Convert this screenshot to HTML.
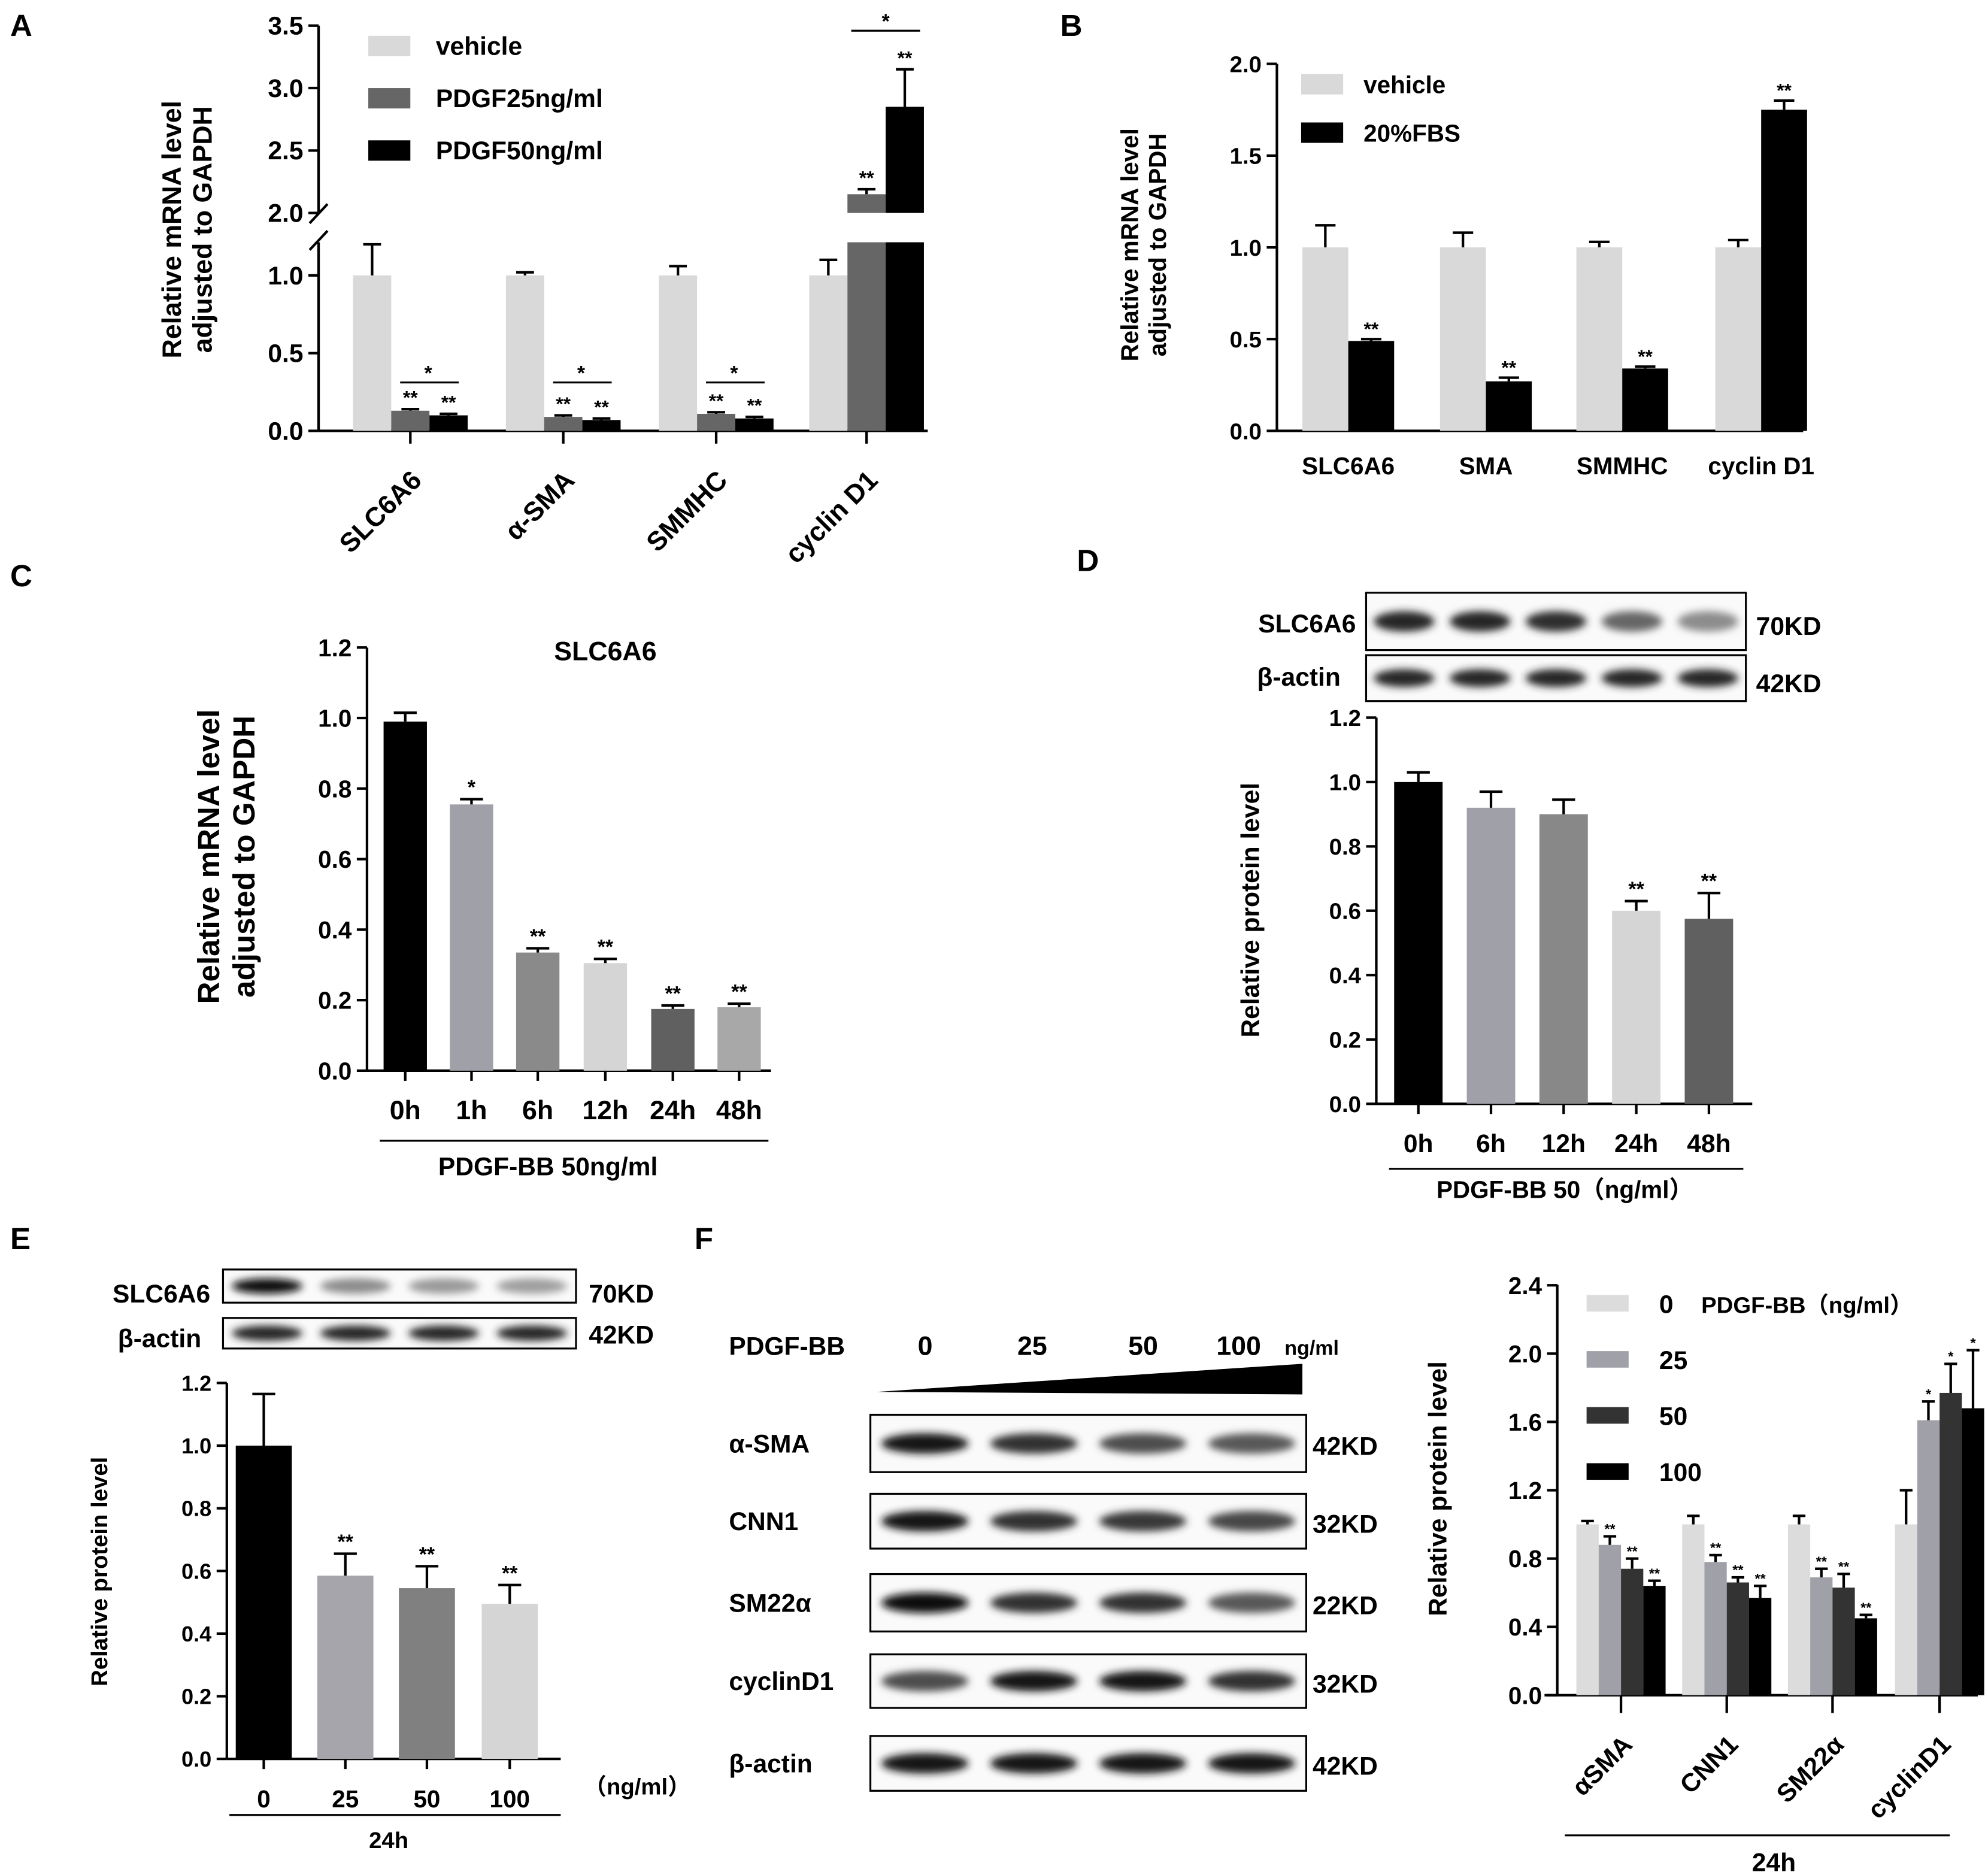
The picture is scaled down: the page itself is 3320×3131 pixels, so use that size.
<!DOCTYPE html>
<html><head><meta charset="utf-8"><style>
html,body{margin:0;padding:0;background:#fff}
svg{display:block}
text{font-family:"Liberation Sans","Noto Sans CJK SC",sans-serif;font-weight:bold;fill:#000}
</style></head><body>
<svg id="fig" xmlns="http://www.w3.org/2000/svg" width="3320" height="3131" viewBox="0 0 1560 1471">
<defs><filter id="blur" x="-20%" y="-50%" width="140%" height="200%"><feGaussianBlur stdDeviation="3"/></filter></defs>
</svg>
<script>
// ---- data ----
const aCats=["SLC6A6","α-SMA","SMMHC","cyclin D1"];
const aVehicle=[1.0,1.0,1.0,1.0];
const aP25=[0.13,0.09,0.11,2.15];
const aP50=[0.10,0.07,0.08,2.85];
const aErrV=[0.2,0.02,0.06,0.1];
const aErr25=[0.01,0.01,0.01,0.04];
const aErr50=[0.01,0.01,0.01,0.3];
const aTicksLow=[0.0,0.5,1.0];
const aTicksHigh=[2.0,2.5,3.0,3.5];
const bCats=["SLC6A6","SMA","SMMHC","cyclin D1"];
const bVehicle=[1.0,1.0,1.0,1.0];
const bFBS=[0.49,0.27,0.34,1.75];
const bErrV=[0.12,0.08,0.03,0.04];
const bErrF=[0.01,0.02,0.01,0.05];
const bTicks=[0.0,0.5,1.0,1.5,2.0];
const cCats=["0h","1h","6h","12h","24h","48h"];
const cVals=[0.99,0.755,0.335,0.305,0.175,0.18];
const cErr=[0.025,0.015,0.012,0.012,0.01,0.01];
const cStars=["","*","**","**","**","**"];
const cTicks=[0.0,0.2,0.4,0.6,0.8,1.0,1.2];
const dCats=["0h","6h","12h","24h","48h"];
const dVals=[1.0,0.92,0.90,0.60,0.575];
const dErr=[0.03,0.05,0.045,0.03,0.08];
const dStars=["","","","**","**"];
const dTicks=[0.0,0.2,0.4,0.6,0.8,1.0,1.2];
const eCats=["0","25","50","100"];
const eVals=[1.0,0.585,0.545,0.495];
const eErr=[0.165,0.07,0.07,0.06];
const eStars=["","**","**","**"];
const eTicks=[0.0,0.2,0.4,0.6,0.8,1.0,1.2];
const fCats=["αSMA","CNN1","SM22α","cyclinD1"];
const fSeries=["0","25","50","100"];
const f0=[1.0,1.0,1.0,1.0];
const f25=[0.88,0.78,0.69,1.61];
const f50=[0.74,0.66,0.63,1.77];
const f100=[0.64,0.57,0.45,1.68];
const fE0=[0.02,0.05,0.05,0.2];
const fE25=[0.05,0.04,0.05,0.11];
const fE50=[0.06,0.03,0.08,0.17];
const fE100=[0.03,0.07,0.02,0.34];
const fStars=[["","**","**","**"],["","**","**","**"],["","**","**","**"],["","*","*","*"]];
const fTicks=[0.0,0.4,0.8,1.2,1.6,2.0,2.4];

const NS="http://www.w3.org/2000/svg";
const svg=document.getElementById('fig');
function mk(tag,attrs,parent){const e=document.createElementNS(NS,tag);for(const k in attrs)e.setAttribute(k,attrs[k]);(parent||svg).appendChild(e);return e;}
function txt(s,x,y,size,anchor,parent,extra){const e=mk('text',Object.assign({x:x,y:y,'font-size':size,'text-anchor':anchor||'middle'},extra||{}),parent);e.textContent=s;return e;}
function grp(name){const g=mk('g',{});return g;}

function yAxis(g,x,yTop,yBot,ticks,ymap,fs,dec,name){
  const l=mk('line',{x1:x,y1:yTop,x2:x,y2:yBot,stroke:'#000','stroke-width':2},g);
  
  
  ticks.forEach(t=>{const y=ymap(t);
    mk('line',{x1:x-8,y1:y,x2:x,y2:y,stroke:'#000','stroke-width':2},g);
    const tl=txt(t.toFixed(dec),x-12,y+fs*0.36,fs,'end',g);
    
    
  });
}
function bar(g,x,w,y0,y,fill,name){const r=mk('rect',{x:x,y:Math.min(y,y0),width:w,height:Math.abs(y0-y),fill:fill},g);
  
  return r;}
function err(g,cx,y,yTop,hw){mk('line',{x1:cx,y1:y,x2:cx,y2:yTop,stroke:'#000','stroke-width':2},g);mk('line',{x1:cx-hw,y1:yTop,x2:cx+hw,y2:yTop,stroke:'#000','stroke-width':2},g);}
function vlabel(g,lines,x,y,fs,name){const t=mk('text',{transform:`translate(${x},${y}) rotate(-90)`,'font-size':fs,'text-anchor':'middle'},g);
  lines.forEach((s,i)=>{const ts=mk('tspan',{x:0,dy:i===0?0:fs*1.15},t);ts.textContent=s;});
  
  }
function letter(s,x,y){const t=txt(s,x,y,24,'start');}
function blot(g,x,y,w,h,n,intens,thick,name){
  const r=mk('rect',{x:x,y:y,width:w,height:h,fill:'#fafafa',stroke:'#000','stroke-width':1.5},g);
  
  
  const lw=w/n;
  for(let i=0;i<n;i++){const c=Math.round(255*(1-intens[i]));
    mk('ellipse',{cx:x+lw*(i+0.5),cy:y+h/2,rx:lw*0.4,ry:thick,fill:`rgb(${c},${c},${c})`,filter:'url(#blur)'},g);}
}

// ---- Panel A ----
(function(){
  const g=grp('panel-a');letter('A',8,28);
  const X=250,y0=338;
  const ym=v=> v<=1.5?y0-122*v:167-98*(v-2);
  mk('line',{x1:X,y1:190,x2:X,y2:y0,stroke:'#000','stroke-width':2},g);
  mk('line',{x1:X,y1:20,x2:X,y2:167,stroke:'#000','stroke-width':2},g);
  mk('line',{x1:X-7,y1:175,x2:X+7,y2:160,stroke:'#000','stroke-width':2},g);
  mk('line',{x1:X-7,y1:196,x2:X+7,y2:181,stroke:'#000','stroke-width':2},g);
  aTicksLow.concat(aTicksHigh).forEach(t=>{const y=ym(t);mk('line',{x1:X-8,y1:y,x2:X,y2:y,stroke:'#000','stroke-width':2},g);
    const tl=txt(t.toFixed(1),X-12,y+7,20,'end',g);});
  const xa=mk('line',{x1:X,y1:y0,x2:728,y2:y0,stroke:'#000','stroke-width':2},g);
  
  
  vlabel(g,['Relative  mRNA level','adjusted to GAPDH'],142,180,21,'a-y-axis-title');
  const centers=[322,442,562,680],w=30;
  const series=[[aVehicle,aErrV,'#d9d9d9'],[aP25,aErr25,'#666666'],[aP50,aErr50,'#000000']];
  aCats.forEach((c,i)=>{
    mk('line',{x1:centers[i],y1:y0,x2:centers[i],y2:y0+10,stroke:'#000','stroke-width':2},g);
    series.forEach((s,j)=>{const v=s[0][i],x=centers[i]-45+j*w;
      if(v>1.5){bar(g,x,w,y0,190,s[2],'a-bar-'+j);bar(g,x,w,167,ym(v),s[2],'a-bar-'+j);}
      else bar(g,x,w,y0,ym(v),s[2],'a-bar-'+j);
      err(g,x+w/2,ym(v),ym(v+s[1][i]),7);
      if(j>0){const st=txt('**',x+w/2,ym(v+s[1][i])-4,15,'middle',g);}
    });
    const t=txt(c,0,0,21,'end',g,{transform:`translate(${centers[i]+10},${y0+40}) rotate(-45)`});
    
    
    if(i<3){mk('line',{x1:centers[i]-8,y1:300,x2:centers[i]+38,y2:300,stroke:'#000','stroke-width':1.5},g);txt('*',centers[i]+14,298,16,'middle',g);}
  });
  mk('line',{x1:668,y1:24,x2:722,y2:24,stroke:'#000','stroke-width':1.5},g);txt('*',695,22,16,'middle',g);
  [['vehicle','#d9d9d9',36],['PDGF25ng/ml','#666666',77],['PDGF50ng/ml','#000000',118]].forEach(l=>{
    const r=mk('rect',{x:289,y:l[2]-8,width:33,height:16,fill:l[1]},g);
    
    
    const t=txt(l[0],342,l[2]+7,20,'start',g);
    
    });
})();

// ---- Panel B ----
(function(){
  const g=grp('panel-b');letter('B',832,28);
  const X=1002,y0=338,ym=v=>y0-144*v;
  yAxis(g,X,50,y0,bTicks,ym,18,1,'b');
  mk('line',{x1:X,y1:y0,x2:1415,y2:y0,stroke:'#000','stroke-width':2},g);
  vlabel(g,['Relative  mRNA level','adjusted to GAPDH'],893,192,19,'b-y-axis-title');
  const centers=[1058,1166,1273,1382],w=36;
  bCats.forEach((c,i)=>{
    bar(g,centers[i]-w,w,y0,ym(bVehicle[i]),'#d9d9d9','b-bar-vehicle');
    err(g,centers[i]-w/2,ym(bVehicle[i]),ym(bVehicle[i]+bErrV[i]),8);
    bar(g,centers[i],w,y0,ym(bFBS[i]),'#000','b-bar-fbs');
    err(g,centers[i]+w/2,ym(bFBS[i]),ym(bFBS[i]+bErrF[i]),8);
    txt('**',centers[i]+w/2,ym(bFBS[i]+bErrF[i])-3,15,'middle',g);
    const t=txt(c,centers[i],372,19,'middle',g);
    
    
  });
  [['vehicle','#d9d9d9',66],['20%FBS','#000',104]].forEach(l=>{
    const r=mk('rect',{x:1021,y:l[2]-8,width:33,height:16,fill:l[1]},g);
    
    
    const t=txt(l[0],1070,l[2]+7,19,'start',g);
    
    });
})();

// simple bar chart helper for C, D, E
function simple(name,g,X,y0,yTop,xEnd,ticks,ppu,cats,vals,errs,stars,centers,w,colors,fs){
  const ym=v=>y0-ppu*v;
  yAxis(g,X,yTop,y0,ticks,ym,fs,1,name);
  const xa=mk('line',{x1:X,y1:y0,x2:xEnd,y2:y0,stroke:'#000','stroke-width':2},g);
  
  
  cats.forEach((c,i)=>{
    bar(g,centers[i]-w/2,w,y0,ym(vals[i]),colors[i],name+'-bar');
    err(g,centers[i],ym(vals[i]),ym(vals[i]+errs[i]),9);
    if(stars[i])txt(stars[i],centers[i],ym(vals[i]+errs[i])-4,16,'middle',g);
    mk('line',{x1:centers[i],y1:y0,x2:centers[i],y2:y0+8,stroke:'#000','stroke-width':2},g);
    const t=txt(c,centers[i],y0+38,fs+2,'middle',g);
    
    
  });
}

// ---- Panel C ----
(function(){
  const g=grp('panel-c');letter('C',8,460);
  simple('c',g,288,840,508,605,cTicks,276.7,cCats,cVals,cErr,cStars,[318,370,422,475,528,580],34,
    ['#000','#a0a0a8','#8a8a8a','#d5d5d5','#606060','#a8a8a8'],19);
  txt('SLC6A6',475,518,21,'middle',g);
  vlabel(g,['Relative  mRNA level','adjusted to GAPDH'],172,672,24,'c-y-axis-title');
  mk('line',{x1:298,y1:895,x2:603,y2:895,stroke:'#000','stroke-width':1.5},g);
  const t=txt('PDGF-BB 50ng/ml',430,922,20,'middle',g);
  
  
})();

// ---- Panel D ----
(function(){
  const g=grp('panel-d');letter('D',845,448);
  blot(g,1072,465,298,45,5,[0.85,0.85,0.82,0.6,0.45],8,'d-blot-slc6a6');
  blot(g,1072,514,298,36,5,[0.85,0.85,0.85,0.85,0.85],7,'d-blot-actin');
  txt('SLC6A6',1064,496,20,'end',g);txt('β-actin',1052,538,20,'end',g);
  txt('70KD',1378,498,20,'start',g);txt('42KD',1378,543,20,'start',g);
  simple('d',g,1080,866,563,1375,dTicks,252.5,dCats,dVals,dErr,dStars,[1113,1170,1227,1284,1341],38,
    ['#000','#a0a0a8','#888888','#d5d5d5','#606060'],18);
  vlabel(g,['Relative  protein level'],988,714,20,'d-y-axis-title');
  mk('line',{x1:1090,y1:917,x2:1368,y2:917,stroke:'#000','stroke-width':1.5},g);
  const t=txt('PDGF-BB 50（ng/ml）',1228,940,19,'middle',g);
  
  
})();

// ---- Panel E ----
(function(){
  const g=grp('panel-e');letter('E',8,980);
  blot(g,175,996,277,26,4,[0.95,0.45,0.4,0.38],6,'e-blot-slc6a6');
  blot(g,175,1034,277,24,4,[0.85,0.85,0.85,0.85],6,'e-blot-actin');
  txt('SLC6A6',165,1022,20,'end',g);txt('β-actin',158,1057,20,'end',g);
  txt('70KD',462,1022,20,'start',g);txt('42KD',462,1054,20,'start',g);
  simple('e',g,178,1380,1085,440,eTicks,245.8,eCats,eVals,eErr,eStars,[207,271,335,400],44,
    ['#000','#a5a5ab','#808080','#d5d5d5'],17);
  txt('（ng/ml）',458,1408,18,'start',g);
  vlabel(g,['Relative  protein level'],84,1233,18,'e-y-axis-title');
  mk('line',{x1:180,y1:1424,x2:440,y2:1424,stroke:'#000','stroke-width':1.5},g);
  txt('24h',305,1450,18,'middle',g);
})();

// ---- Panel F blots ----
(function(){
  const g=grp('panel-f-blots');letter('F',545,980);
  txt('PDGF-BB',572,1063,20,'start',g);
  ['0','25','50','100'].forEach((s,i)=>txt(s,[726,810,897,972][i],1063,21,'middle',g));
  txt('ng/ml',1008,1063,16,'start',g);
  const tri=mk('polygon',{points:'688,1092 1022,1070 1022,1094',fill:'#000'},g);
  
  
  const rows=[['α-SMA',1110,45,[0.9,0.8,0.7,0.65],'42KD'],['CNN1',1172,43,[0.92,0.8,0.78,0.72],'32KD'],
    ['SM22α',1235,45,[0.95,0.8,0.8,0.65],'22KD'],['cyclinD1',1298,42,[0.7,0.9,0.92,0.8],'32KD'],['β-actin',1362,43,[0.9,0.9,0.9,0.9],'42KD']];
  rows.forEach(r=>{blot(g,683,r[1],342,r[2],4,r[3],8,'f-blot-'+r[0]);
    txt(r[0],572,r[1]+r[2]/2+7,20,'start',g);
    txt(r[4],1030,r[1]+r[2]/2+9,20,'start',g);});
})();

// ---- Panel F chart ----
(function(){
  const g=grp('panel-f-chart');
  const X=1222,y0=1330,ym=v=>y0-134*v;
  yAxis(g,X,1008,y0,fTicks,ym,19,1,'f');
  mk('line',{x1:X-10,y1:y0,x2:1552,y2:y0,stroke:'#000','stroke-width':2},g);
  vlabel(g,['Relative  protein level'],1135,1168,20,'f-y-axis-title');
  const centers=[1272,1355,1438,1522],w=17.5;
  const ser=[[f0,fE0,'#dcdcdc'],[f25,fE25,'#a0a0a8'],[f50,fE50,'#333333'],[f100,fE100,'#000000']];
  fCats.forEach((c,i)=>{
    ser.forEach((s,j)=>{const x=centers[i]-2*w+j*w,v=s[0][i];
      bar(g,x,w,y0,ym(v),s[2],'f-bar-'+fSeries[j]);
      err(g,x+w/2,ym(v),ym(v+s[1][i]),5);
      if(fStars[i][j])txt(fStars[i][j],x+w/2,ym(v+s[1][i])-2,11,'middle',g);});
    mk('line',{x1:centers[i],y1:y0,x2:centers[i],y2:y0+14,stroke:'#000','stroke-width':2},g);
    const t=txt(c,0,0,20,'end',g,{transform:`translate(${centers[i]+10},${y0+40}) rotate(-45)`});
    
    
  });
  fSeries.forEach((s,j)=>{const y=1022+j*44;
    const r=mk('rect',{x:1245,y:y-6,width:33,height:13,fill:ser[j][2]},g);
    
    
    const t=txt(s,1302,y+8,20,'start',g,{'font-weight':'normal'});
    
    });
  txt('PDGF-BB（ng/ml）',1335,1030,18,'start',g);
  mk('line',{x1:1228,y1:1440,x2:1530,y2:1440,stroke:'#000','stroke-width':1.5},g);
  txt('24h',1392,1468,20,'middle',g);
})();
</script>
</body></html>
